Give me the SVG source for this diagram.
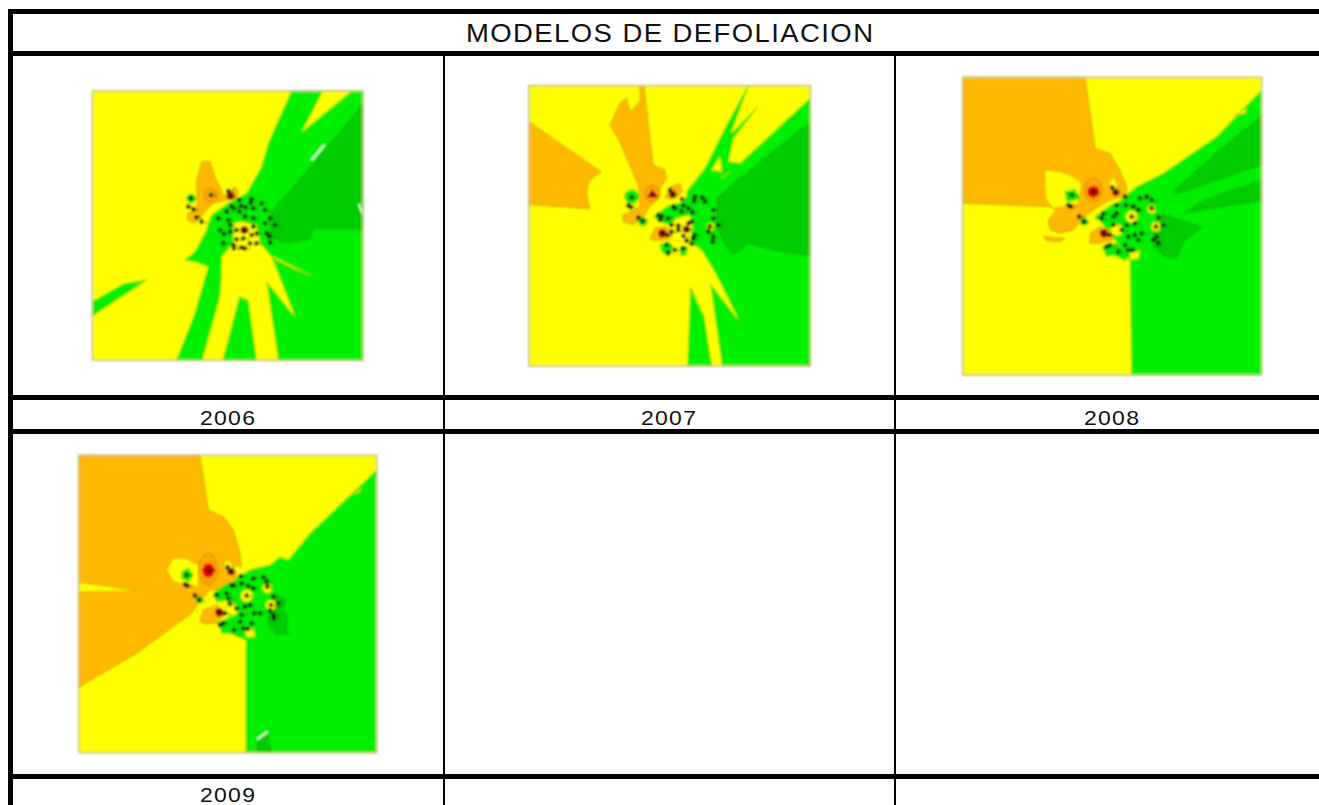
<svg xmlns="http://www.w3.org/2000/svg" width="1319" height="805" viewBox="0 0 1319 805">
<style>
.y{fill:#ffff00}.g{fill:#00f000;stroke:#30b000;stroke-width:1.5}.d{fill:#00cc00;stroke:#30a000;stroke-width:1.5}
.o{fill:#ffb800;stroke:#b89000;stroke-width:2}.oc{fill:#f8a800;stroke:#c07800;stroke-width:2}.yl{fill:#ffff00;stroke:#b8a800;stroke-width:1.5}
.r{fill:#e80000}.dr{fill:#b02000}.w{fill:none;stroke:#fff;stroke-width:5}
.f{fill:none;stroke:#c4c478;stroke-width:5}
.k{fill:none;stroke:#101008;stroke-width:14;stroke-linecap:round}
.s{stroke:#405020;stroke-width:7;stroke-opacity:.45}
.t{font-family:"Liberation Sans",Arial,sans-serif;fill:#111}
.b{fill:#000}
</style>
<defs><filter id="bl" x="-5%" y="-5%" width="110%" height="110%"><feGaussianBlur stdDeviation="2.4"/></filter></defs>
<rect width="1319" height="805" fill="#fff"/>

<g id="map-2006" transform="translate(80 80) scale(.33333)" filter="url(#bl)">
<rect class="y" x="37" y="33" width="812" height="808"/>
<path class="g" d="M635 33H849V841H290L345 700 385 560 345 545 315 540 345 515 375 460 395 405 445 370 500 340 545 260 565 190 600 110Z"/>
<path class="yl" d="M728 33H815L672 150 665 155 700 90Z"/>
<path class="d" d="M849 70V447H700L690 480 610 490 570 470 570 400 700 250 800 130Z"/>
<path class="yl" d="M367 841 420 650 425 590 425 530 460 490 460 430 480 425 530 435 540 490 575 530 645 710 560 605 595 841H530L505 660 478 650 428 841Z"/>
<path class="yl" d="M570 525 690 585 640 565 590 540Z"/>
<path class="g" d="M37 665 130 612 200 600 37 708Z"/>
<path class="w" d="M695 240 733 195M837 372 849 405"/>
<path class="o" d="M350 300 365 245 390 245 405 290 425 330 430 350 465 320 475 340 470 355 430 362 400 370 375 395 345 430 322 420 322 400 345 395 352 370Z"/>
<circle class="oc" cx="392" cy="345" r="20"/>
<circle class="g" cx="333" cy="355" r="13"/>
<circle class="dr" cx="452" cy="348" r="12"/><circle class="dr" cx="493" cy="450" r="12"/>
<g class="k"><path id="d1" d="M333 355h0M325 380h0M340 388h0M350 412h0M365 425h0M393 345h0M445 333h0M450 348h0M478 360h0M455 380h0M462 385h0M483 378h0M497 382h0M515 358h0M512 368h0M545 370h0M555 390h0M520 385h0M478 395h0M495 410h0M520 415h0M440 395h0M415 415h0M445 420h0M570 415h0M585 435h0M555 430h0M560 460h0M568 470h0M570 488h0M450 435h0M420 450h0M432 462h0M450 455h0M470 450h0M493 450h0M520 440h0M515 465h0M530 460h0M490 475h0M510 490h0M485 503h0M495 505h0M462 505h0M460 495h0M430 490h0M470 478h0M530 490h0"/><use href="#d1" class="s" transform="translate(13 2)"/></g>
<rect class="f" x="37" y="33" width="812" height="808"/>
</g>

<g id="map-2007" transform="translate(520 75) scale(.33333)" filter="url(#bl)">
<rect class="y" x="27" y="32" width="844" height="841"/>
<path class="g" d="M870 70V873H607L572 628 660 742 590 600 545 525 510 500 500 350 555 280 620 150 685 32 630 180 712 97 640 190 625 260 660 265 800 135Z"/>
<path class="g" d="M503 873 512 638 552 725 575 873Z"/>
<path class="yl" d="M575 285 600 245 605 290ZM600 310 630 290 610 305Z"/>
<path class="d" d="M870 140V543L780 530 680 505 670 520 640 540 610 505 590 450 590 370 640 325Z"/>
<path class="g" d="M795 145 830 118 825 128Z"/>
<path class="o" d="M27 140 243 290 205 320 200 360 210 402 27 388Z"/>
<path class="o" d="M358 32H372L385 150 400 270 435 285 440 310 420 340 415 370 385 400 375 420 340 450 310 440 308 420 345 405 360 395 355 330 320 250 300 200 270 150 300 85 320 68 330 112 362 75Z"/>
<path class="o" d="M435 370 450 335 480 325 487 350 465 372Z"/>
<path class="g" d="M400 425 440 395 490 380 510 350 540 440 520 510 450 450 420 440Z"/>
<path class="yl" d="M470 430 505 420 520 440 510 500 450 495 450 450Z"/>
<path class="g" d="M420 510 445 500 460 515 445 545 425 530ZM480 515 500 515 498 540 482 542Z"/>
<path class="o" d="M390 490 405 458 440 455 455 480 440 495 400 497Z"/>
<circle class="g" cx="335" cy="365" r="21"/><circle class="g" cx="368" cy="440" r="13"/>
<circle class="yl" cx="572" cy="455" r="11"/>
<circle class="oc" cx="397" cy="355" r="24"/><path class="r" d="M397 341 414 368H380Z"/>
<circle class="dr" cx="458" cy="358" r="11"/><circle class="dr" cx="427" cy="475" r="13"/><circle class="dr" cx="500" cy="463" r="11"/>
<g class="k"><path id="d2" d="M335 367h0M325 392h0M333 397h0M355 428h0M368 438h0M397 358h0M450 345h0M458 358h0M486 372h0M490 392h0M485 410h0M460 395h0M465 400h0M525 365h0M522 378h0M547 368h0M555 380h0M580 405h0M505 400h0M517 412h0M415 420h0M425 425h0M445 430h0M420 435h0M580 430h0M595 450h0M570 455h0M565 470h0M580 485h0M578 500h0M505 445h0M515 440h0M500 463h0M455 450h0M475 452h0M427 475h0M442 480h0M455 470h0M475 465h0M490 483h0M525 480h0M520 490h0M500 497h0M515 507h0M490 520h0M465 525h0M440 510h0M445 533h0"/><use href="#d2" class="s" transform="translate(13 2)"/></g>
<rect class="f" x="27" y="32" width="844" height="841"/>
</g>

<g id="map-2008" transform="translate(950 70) scale(.33333)" filter="url(#bl)">
<rect class="y" x="38" y="22" width="897" height="893"/>
<path class="g" d="M935 60V915H545L540 570 520 540 440 440 500 400 560 350 640 310 800 200Z"/>
<path class="d" d="M935 135V285L680 372 668 365 750 290Z"/>
<path class="d" d="M935 330V392L700 430 760 390Z"/>
<path class="d" d="M640 430 690 450 760 470 720 500 700 520 680 565 640 560 610 530 610 460Z"/>
<path class="yl" d="M855 135 890 115 885 130Z"/>
<path class="o" d="M38 22H405L425 160 435 235 480 250 510 300 530 350 530 380 500 385 470 395 430 420 400 445 370 480 330 490 300 480 295 450 320 420 300 410 38 400Z"/>
<path class="yl" d="M285 300 330 305 370 320 395 340 385 400 310 415 290 390 285 350Z"/>
<path class="yl" d="M478 330 495 325 505 365 480 350Z"/>
<path class="g" d="M345 365 375 358 390 385 360 395 350 392Z"/>
<circle class="g" cx="402" cy="455" r="11"/>
<path class="o" d="M280 500 345 505 330 515 290 512Z"/>
<path class="o" d="M420 490 450 470 480 480 490 510 445 520 420 520Z"/>
<path class="g" d="M435 440 490 400 530 420 530 450 500 460 480 450 440 450Z"/>
<path class="g" d="M455 530 500 520 540 560 525 572 490 555 470 560Z"/>
<path class="yl" d="M540 550 570 540 565 565 540 570Z"/>
<circle class="yl" cx="545" cy="440" r="18"/><circle class="yl" cx="605" cy="418" r="12"/><circle class="yl" cx="618" cy="470" r="14"/><circle class="yl" cx="500" cy="480" r="18"/>
<ellipse class="oc" cx="430" cy="360" rx="27" ry="36"/><circle class="r" cx="430" cy="365" r="18"/>
<circle class="dr" cx="497" cy="367" r="11"/><circle class="dr" cx="462" cy="490" r="13"/>
<g class="k"><path id="d3" d="M365 375h0M355 405h0M362 410h0M388 440h0M402 455h0M430 365h0M487 353h0M497 367h0M525 380h0M528 405h0M500 405h0M500 430h0M460 430h0M455 445h0M490 440h0M570 385h0M590 380h0M605 390h0M550 410h0M565 420h0M605 415h0M545 440h0M625 442h0M618 470h0M640 465h0M490 465h0M515 480h0M530 465h0M555 460h0M460 490h0M478 495h0M535 500h0M555 495h0M575 490h0M620 500h0M610 510h0M625 520h0M525 525h0M565 510h0M470 530h0M480 525h0M505 545h0M535 540h0M548 540h0"/><use href="#d3" class="s" transform="translate(13 2)"/></g>
<rect class="f" x="38" y="22" width="897" height="893"/>
</g>

<g id="map-2009" transform="translate(70 450) scale(.33333)" filter="url(#bl)">
<rect class="y" x="26" y="16" width="894" height="892"/>
<path class="g" d="M920 60V908H528V570L490 555 440 520 430 440 470 400 540 360 600 345 630 320 655 330 720 250Z"/>
<path class="d" d="M610 430 650 450 640 480 655 500 650 540 660 550 620 555 590 520 600 470Z"/>
<path class="d" d="M560 870 595 845 603 908H562Z"/>
<path class="w" d="M562 868 593 845"/>
<path class="yl" d="M840 135 875 115 868 125Z"/>
<path class="o" d="M26 16H390L415 180 460 200 490 240 510 310 515 350 490 345 500 385 460 420 420 420 385 460 365 490 200 610 26 712Z"/>
<path class="yl" d="M26 398 205 422 26 425Z"/>
<path class="yl" d="M290 360 310 325 345 325 385 345 385 410 350 405 310 395Z"/>
<path class="yl" d="M460 350 470 330 490 345 485 370Z"/>
<path class="g" d="M335 365 355 355 370 375 355 395 335 385Z"/>
<circle class="g" cx="388" cy="450" r="10"/>
<path class="yl" d="M380 480 430 440 470 450 480 500 440 520 400 525Z"/>
<path class="o" d="M390 515 400 480 440 465 465 490 445 515 410 520Z"/>
<path class="g" d="M430 430 470 400 500 410 510 440 480 450 440 455Z"/>
<path class="g" d="M445 520 480 515 525 540 510 558 480 550 455 550Z"/>
<path class="yl" d="M525 540 550 535 555 560 530 562Z"/>
<circle class="yl" cx="530" cy="437" r="18"/><circle class="yl" cx="592" cy="415" r="14"/><circle class="yl" cx="603" cy="465" r="15"/><circle class="yl" cx="485" cy="478" r="19"/>
<ellipse class="oc" cx="415" cy="358" rx="28" ry="48"/><path class="r" d="M405 341H425L437 360 425 382H405L395 360Z"/>
<circle class="dr" cx="483" cy="365" r="11"/><circle class="dr" cx="448" cy="487" r="13"/>
<g class="k"><path id="d4" d="M350 375h0M345 403h0M352 407h0M375 437h0M388 450h0M416 362h0M473 352h0M483 365h0M512 378h0M515 400h0M485 405h0M490 407h0M440 435h0M470 430h0M475 445h0M550 385h0M580 382h0M590 395h0M535 408h0M550 415h0M592 410h0M530 437h0M610 440h0M603 465h0M625 460h0M480 462h0M500 475h0M525 470h0M540 465h0M448 487h0M465 490h0M515 495h0M553 490h0M570 490h0M610 495h0M600 482h0M612 505h0M510 515h0M545 520h0M460 520h0M450 525h0M492 540h0M520 535h0M533 537h0"/><use href="#d4" class="s" transform="translate(13 2)"/></g>
<rect class="f" x="26" y="16" width="894" height="892"/>
</g>

<g id="table">
<rect class="b" x="8" y="9" width="1311" height="5"/>
<rect class="b" x="8" y="51" width="1311" height="5"/>
<rect class="b" x="8" y="395" width="1311" height="5"/>
<rect class="b" x="8" y="429" width="1311" height="5"/>
<rect class="b" x="8" y="774" width="1311" height="5"/>
<rect class="b" x="8" y="9" width="5" height="796"/>
<rect class="b" x="443" y="51" width="2" height="754"/>
<rect class="b" x="894" y="51" width="2" height="754"/>
</g>

<g id="labels">
<text class="t" transform="translate(466 42) scale(1.1 1)" font-size="25" textLength="370" lengthAdjust="spacing">MODELOS DE DEFOLIACION</text>
<text class="t" transform="translate(200 425) scale(1.15 1)" font-size="20" textLength="47.8" lengthAdjust="spacing">2006</text>
<text class="t" transform="translate(641 425) scale(1.15 1)" font-size="20" textLength="47.8" lengthAdjust="spacing">2007</text>
<text class="t" transform="translate(1084 425) scale(1.15 1)" font-size="20" textLength="47.8" lengthAdjust="spacing">2008</text>
<text class="t" transform="translate(200 802) scale(1.15 1)" font-size="20" textLength="47.8" lengthAdjust="spacing">2009</text>
</g>
</svg>
